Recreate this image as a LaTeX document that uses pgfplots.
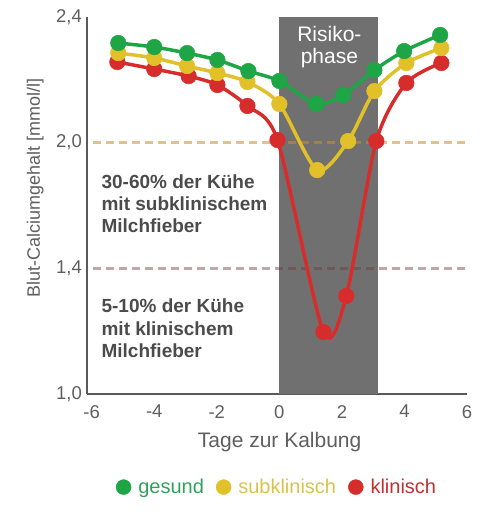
\documentclass[border=0pt]{standalone}
\usepackage{fontspec}
\setmainfont{Liberation Sans}
\usepackage{pgfplots}
\pgfplotsset{compat=1.18}
\definecolor{cgreen}{RGB}{30,165,70}
\definecolor{cyellow}{RGB}{226,192,42}
\definecolor{cred}{RGB}{214,44,44}
\definecolor{tgreen}{RGB}{50,160,90}
\definecolor{tyellow}{RGB}{215,195,80}
\definecolor{tred}{RGB}{190,50,50}
\definecolor{boxgray}{RGB}{112,112,112}
\definecolor{axgray}{RGB}{90,90,90}
\definecolor{txtgray}{RGB}{95,95,95}
\definecolor{anngray}{RGB}{75,75,75}
\definecolor{dashtan}{RGB}{200,140,60}
\definecolor{dashmauve}{RGB}{110,60,60}
\begin{document}
\begin{tikzpicture}
\path[use as bounding box] (0bp,0bp) rectangle (483bp,524bp);
\begin{axis}[
  at={(87bp,130bp)}, anchor=south west,
  scale only axis, width=380bp, height=377bp,
  xmin=-6.15, xmax=6, ymin=0, ymax=3,
  clip=false,
  axis lines=left,
  axis line style={axgray, line width=1.8bp, -},
  xtick={-6,-4,-2,0,2,4,6},
  xticklabels={-6,-4,-2,0,2,4,6},
  ytick={0,1,2,3},
  yticklabels={{1,0},{1,4},{2,0},{2,4}},
  major tick length=0pt,
  tick label style={font=\fontsize{18.5bp}{20bp}\selectfont, text=txtgray, inner sep=0pt},
  xticklabel style={anchor=north, yshift=-11bp},
  yticklabel style={anchor=east, xshift=-5bp},
  xlabel={Tage zur Kalbung},
  xlabel style={font=\fontsize{21bp}{24bp}\selectfont, text=txtgray,
    at={(axis description cs:0.507,0)}, anchor=base, yshift=-53bp, inner sep=0pt},
  ylabel={Blut-Calciumgehalt [mmol/l]},
  ylabel style={font=\fontsize{18bp}{20bp}\selectfont, text=txtgray,
    at={(axis description cs:-0.124,0.546)}, anchor=base, inner sep=0pt},
  legend image code/.code={\fill[#1] (0bp,0bp) circle (7.5bp);},
  legend style={at={(axis description cs:0.5,-0.247)}, anchor=center,
    draw=none, fill=none, font=\fontsize{20bp}{22bp}\selectfont,
    /tikz/every odd column/.append style={column sep=5bp},
    /tikz/every even column/.append style={column sep=10bp}},
  legend columns=3,
]
% risk phase box
\addplot[fill=boxgray, draw=none, forget plot] coordinates {(0,0) (0,3) (3.16,3) (3.16,0)} -- cycle;
% threshold lines
\addplot[dashtan, opacity=0.55, line width=2.5bp, dash pattern=on 8bp off 5bp, forget plot] coordinates {(-5.95,2) (6,2)};
\addplot[dashmauve, opacity=0.45, line width=2.5bp, dash pattern=on 8bp off 5bp, forget plot] coordinates {(-5.95,1) (6,1)};

\addlegendimage{cgreen}\addlegendentry{\textcolor{tgreen}{gesund}}
\addlegendimage{cyellow}\addlegendentry{\textcolor{tyellow}{subklinisch}}
\addlegendimage{cred}\addlegendentry{\textcolor{tred}{klinisch}}

% klinisch
\addplot[cred, line width=3.5bp, smooth, tension=0.45, mark=*, mark size=7.8bp, mark options={line width=0.5bp}, forget plot]
 coordinates {(-5.18,2.642) (-4,2.586) (-2.9,2.530) (-1.98,2.459) (-1.02,2.292) (-0.06,2.021) (1.41,0.493) (2.14,0.780) (3.1,2.013) (4.06,2.475) (5.18,2.634)};
% subklinisch
\addplot[cyellow, line width=3.5bp, smooth, tension=0.45, mark=*, mark size=7.8bp, mark options={line width=0.5bp}, forget plot]
 coordinates {(-5.15,2.713) (-4,2.674) (-2.95,2.610) (-1.98,2.554) (-1.02,2.483) (0,2.308) (1.21,1.782) (2.2,2.013) (3.04,2.411) (4.06,2.634) (5.18,2.753)};
% gesund
\addplot[cgreen, line width=3.5bp, smooth, tension=0.45, mark=*, mark size=7.8bp, mark options={line width=0.5bp}, forget plot]
 coordinates {(-5.15,2.793) (-4,2.761) (-2.95,2.713) (-1.98,2.658) (-0.99,2.570) (0,2.491) (1.18,2.308) (2.04,2.379) (3.04,2.578) (3.99,2.729) (5.14,2.857)};

\node[text=white, font=\fontsize{21bp}{23bp}\selectfont, anchor=base] at (axis cs:1.6,2.809) {Risiko-};
\node[text=white, font=\fontsize{21bp}{23bp}\selectfont, anchor=base] at (axis cs:1.6,2.626) {phase};

\begin{scope}[every node/.style={text=anngray, font=\fontsize{19bp}{22bp}\selectfont\bfseries, anchor=base west, inner sep=0pt}]
\node at (axis cs:-5.69,1.639) {30-60\% der Kühe};
\node at (axis cs:-5.69,1.464) {mit subklinischem};
\node at (axis cs:-5.69,1.289) {Milchfieber};
\node at (axis cs:-5.69,0.645) {5-10\% der Kühe};
\node at (axis cs:-5.69,0.469) {mit klinischem};
\node at (axis cs:-5.69,0.294) {Milchfieber};
\end{scope}
\end{axis}
\end{tikzpicture}
\end{document}
